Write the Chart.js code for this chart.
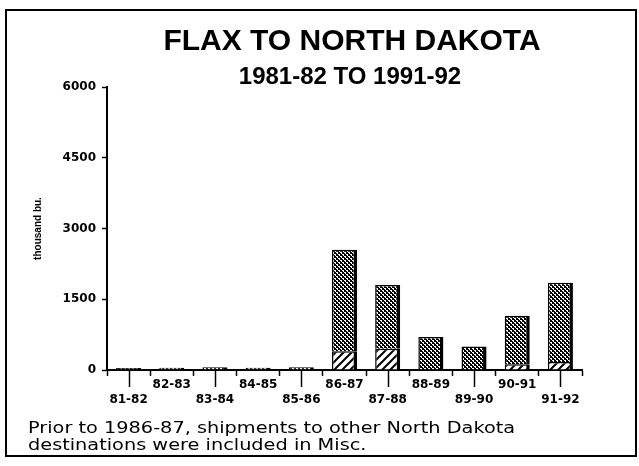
<!DOCTYPE html>
<html>
<head>
<meta charset="utf-8">
<script src="https://cdn.jsdelivr.net/npm/chart.js@4.4.1/dist/chart.umd.min.js"></script>
<style>
  html, body { margin: 0; padding: 0; background: #fff; }
  #wrap { position: relative; width: 639px; height: 466px; overflow: hidden; }
  #frame { position: absolute; left: 5px; top: 9px; width: 632px; height: 448px; border: 2px solid #000; box-sizing: border-box; }
  canvas { position: absolute; left: 0; top: 0; }
  .head { position: absolute; transform: translateX(-50%); white-space: nowrap; font-family: "Liberation Sans", Arial, sans-serif; font-weight: bold; color: #000; }
  #title { left: 352px; top: 25px; font-size: 30px; line-height: 30px; }
  #subtitle { left: 350px; top: 64px; font-size: 24px; line-height: 24px; }
  #note { position: absolute; left: 28px; top: 419px; font-family: "DejaVu Sans", sans-serif; font-size: 16.5px; line-height: 17px; color: #000; white-space: nowrap; transform: scaleX(1.17); transform-origin: 0 0; }
</style>
</head>
<body>
<div id="wrap">
  <div id="frame"></div>
  <canvas id="chart" width="639" height="466"></canvas>
  <div id="title" class="head">FLAX TO NORTH DAKOTA</div>
  <div id="subtitle" class="head">1981-82 TO 1991-92</div>
  <div id="note">Prior to 1986-87, shipments to other North Dakota<br>destinations were included in Misc.</div>
</div>
<script>
// crop years and shipments (thousand bu.)
const years   = ['81-82', '82-83', '83-84', '84-85', '85-86', '86-87', '87-88', '88-89', '89-90', '90-91', '91-92'];
const ndOther = [0, 0, 0, 0, 0, 400, 450, 0, 0, 120, 170];          // hatched part
const ndMain  = [40, 50, 60, 50, 60, 2150, 1350, 700, 500, 1030, 1680]; // stippled part
const yTicks  = [0, 1500, 3000, 4500, 6000];

const canvas = document.getElementById('chart');
const ctx = canvas.getContext('2d');

// stipple fill: white dots on black
function makeDots() {
  const t = document.createElement('canvas');
  t.width = 4; t.height = 4;
  const g = t.getContext('2d');
  g.fillStyle = '#000'; g.fillRect(0, 0, 4, 4);
  g.fillStyle = '#fff';
  g.fillRect(0, 0, 2, 1);
  g.fillRect(1, 1, 1, 1);
  g.fillRect(2, 2, 2, 1);
  g.fillRect(3, 3, 1, 1);
  return ctx.createPattern(t, 'repeat');
}

// diagonal hatch: black "/" lines on white
function makeHatch() {
  const s = 8;
  const t = document.createElement('canvas');
  t.width = s; t.height = s;
  const g = t.getContext('2d');
  g.fillStyle = '#fff'; g.fillRect(0, 0, s, s);
  g.strokeStyle = '#000'; g.lineWidth = 2;
  g.beginPath();
  g.moveTo(0, s); g.lineTo(s, 0);
  g.moveTo(-2, 2); g.lineTo(2, -2);
  g.moveTo(s - 2, s + 2); g.lineTo(s + 2, s - 2);
  g.stroke();
  return ctx.createPattern(t, 'repeat');
}

// alternate x labels get a longer tick mark
const longTicks = {
  id: 'longTicks',
  afterDraw(chart) {
    const x = chart.scales.x;
    const c = chart.ctx;
    c.save();
    c.strokeStyle = '#000';
    c.lineWidth = 1.5;
    years.forEach((y, i) => {
      if (i % 2) return;
      const px = Math.round(x.getPixelForTick(i)) + 0.5;
      c.beginPath();
      c.moveTo(px, x.top);
      c.lineTo(px, x.top + 17);
      c.stroke();
    });
    c.restore();
  }
};

const tickFont = { family: 'DejaVu Sans', weight: 'bold', size: 12 };
const barBorder = { top: 1.5, left: 1.5, right: 3.5, bottom: 0 };

new Chart(ctx, {
  type: 'bar',
  data: {
    labels: years,
    datasets: [
      { label: 'other', data: ndOther, backgroundColor: makeHatch(), borderColor: '#000', borderWidth: barBorder, borderSkipped: 'start' },
      { label: 'main',  data: ndMain,  backgroundColor: makeDots(),  borderColor: '#000', borderWidth: barBorder, borderSkipped: 'start' }
    ]
  },
  options: {
    responsive: false,
    animation: false,
    layout: { padding: { left: 0, right: 57, top: 87, bottom: 0 } },
    datasets: { bar: { barPercentage: 0.58, categoryPercentage: 1 } },
    plugins: { legend: { display: false }, tooltip: { enabled: false }, title: { display: false } },
    scales: {
      x: {
        stacked: true,
        grid: { drawOnChartArea: false, tickLength: 6, tickColor: '#000', tickWidth: 1.5 },
        border: { color: '#000', width: 2 },
        ticks: {
          color: '#000', font: tickFont, padding: 2, autoSkip: false, maxRotation: 0,
          callback: (v, i) => i % 2 === 0 ? ['', years[i]] : years[i]
        },
        afterFit(s) { s.height = 96; }
      },
      y: {
        stacked: true,
        min: yTicks[0],
        max: yTicks[yTicks.length - 1],
        afterBuildTicks(s) { s.ticks = yTicks.map(v => ({ value: v })); },
        grid: { drawOnChartArea: false, tickLength: 5, tickColor: '#000', tickWidth: 1.5 },
        border: { color: '#000', width: 2 },
        ticks: { color: '#000', font: tickFont, padding: 6, callback: v => String(v) },
        title: {
          display: true, text: 'thousand bu.', color: '#000',
          font: { family: 'Liberation Sans', weight: 'bold', size: 10 },
          padding: { top: 32, bottom: 0 }
        },
        afterFit(s) { s.width = 107; }
      }
    }
  },
  plugins: [longTicks]
});
</script>
</body>
</html>
